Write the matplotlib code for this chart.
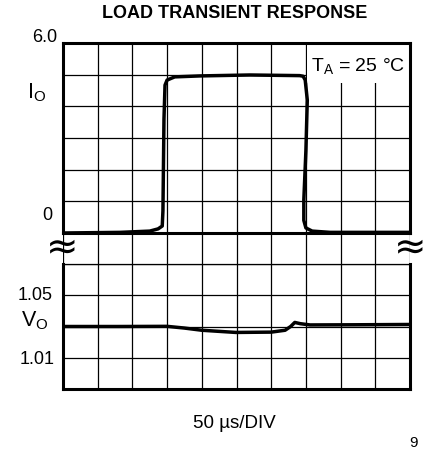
import matplotlib
matplotlib.use("Agg")
import matplotlib.pyplot as plt
from matplotlib.patches import Rectangle

plt.rcParams['font.family'] = ['Liberation Sans Narrow', 'Liberation Sans', 'DejaVu Sans']

# ---- data (time in microseconds, 50 us/div) ----
t_io = [0, 82, 125, 137, 143, 144, 145.5, 147, 150, 161, 197, 269, 341, 346, 349, 352, 350, 347, 347, 350, 359, 385, 500]
i_o = [0.0, 0.02, 0.06, 0.13, 0.22, 0.7, 3.6, 4.67, 4.83, 4.93, 4.96, 4.99, 4.97, 4.95, 4.83, 4.2, 2.6, 1.04, 0.4, 0.16, 0.06, 0.02, 0.02]

t_vo = [0, 80, 150, 175, 200, 249, 300, 320, 328, 334, 342, 356, 420, 500]
v_o = [1.0300, 1.0300, 1.0301, 1.0290, 1.0276, 1.0262, 1.0264, 1.0276, 1.0300, 1.0326, 1.0318, 1.0310, 1.0311, 1.0313]

x_ticks = list(range(0, 501, 50))
io_ticks = [0, 1, 2, 3, 4, 5, 6]
vo_ticks = [0.99, 1.01, 1.03, 1.05, 1.07]

W, H = 433, 454
fig = plt.figure(figsize=(W / 100, H / 100), dpi=100)

def fx(px):
    return px / W

def fy(py):
    return 1 - py / H

L, R = 63, 410
top_t, top_b = 43, 233
bot_t, bot_b = 264, 389

ax1 = fig.add_axes([fx(L), fy(top_b), fx(R - L), fy(top_t) - fy(top_b)])
axg = fig.add_axes([fx(L), fy(bot_t), fx(R - L), fy(top_b) - fy(bot_t)])
ax2 = fig.add_axes([fx(L), fy(bot_b), fx(R - L), fy(bot_t) - fy(bot_b)])

for ax in (ax1, axg, ax2):
    ax.set_xlim(0, 500)
    ax.set_xticks(x_ticks)
    ax.tick_params(length=0, labelleft=False, labelbottom=False)
    ax.grid(True, axis='x', color='black', lw=0.9)

ax1.set_ylim(0, 6)
ax1.set_yticks(io_ticks)
ax1.grid(True, axis='y', color='black', lw=0.9)
ax2.set_ylim(0.99, 1.07)
ax2.set_yticks(vo_ticks)
ax2.grid(True, axis='y', color='black', lw=0.9)
axg.set_ylim(0, 1)
axg.set_yticks([])
for s in axg.spines.values():
    s.set_visible(False)
axg.patch.set_alpha(0)

for s in ax1.spines.values():
    s.set_linewidth(2.2)
for s in ax2.spines.values():
    s.set_linewidth(2.2)
ax2.spines['top'].set_linewidth(0.9)

# white box behind T_A label
ax1.add_patch(Rectangle((352, 4.75), 148, 1.25, facecolor='white', edgecolor='none', zorder=2.5))

ax1.plot(t_io, i_o, color='black', lw=2.5, solid_capstyle='round', solid_joinstyle='round', zorder=3)
ax2.plot(t_vo, v_o, color='black', lw=2.5, solid_capstyle='round', solid_joinstyle='round', zorder=3)

ax1.text(0.985, 0.93, r'T$_\mathregular{A}$ = 25 °C', transform=ax1.transAxes, ha='right', va='top',
         fontsize=14, zorder=4)

# labels
fs = 13
fig.text(fx(57), fy(37), '6.0', ha='right', va='center', fontsize=fs)
fig.text(fx(52), fy(215), '0', ha='right', va='center', fontsize=fs)
fig.text(fx(53), fy(295), '1.05', ha='right', va='center', fontsize=fs)
fig.text(fx(55), fy(359), '1.01', ha='right', va='center', fontsize=fs)
fig.text(fx(27), fy(93), r'I$_\mathregular{O}$', ha='left', va='center', fontsize=15.5)
fig.text(fx(21), fy(321), r'V$_\mathregular{O}$', ha='left', va='center', fontsize=15.5)

fig.text(fx(62), fy(247), '≈', ha='center', va='center', fontsize=28, family=['DejaVu Sans'])
fig.text(fx(410), fy(247), '≈', ha='center', va='center', fontsize=28, family=['DejaVu Sans'])

fig.text(fx(235), fy(14), 'LOAD TRANSIENT RESPONSE', ha='center', va='center', fontsize=13, fontweight='bold')
fig.text(fx(234), fy(423), '50 µs/DIV', ha='center', va='center', fontsize=13.5)
fig.text(fx(413), fy(443), '9', ha='center', va='center', fontsize=11)

fig.savefig('out.png', dpi=100)
